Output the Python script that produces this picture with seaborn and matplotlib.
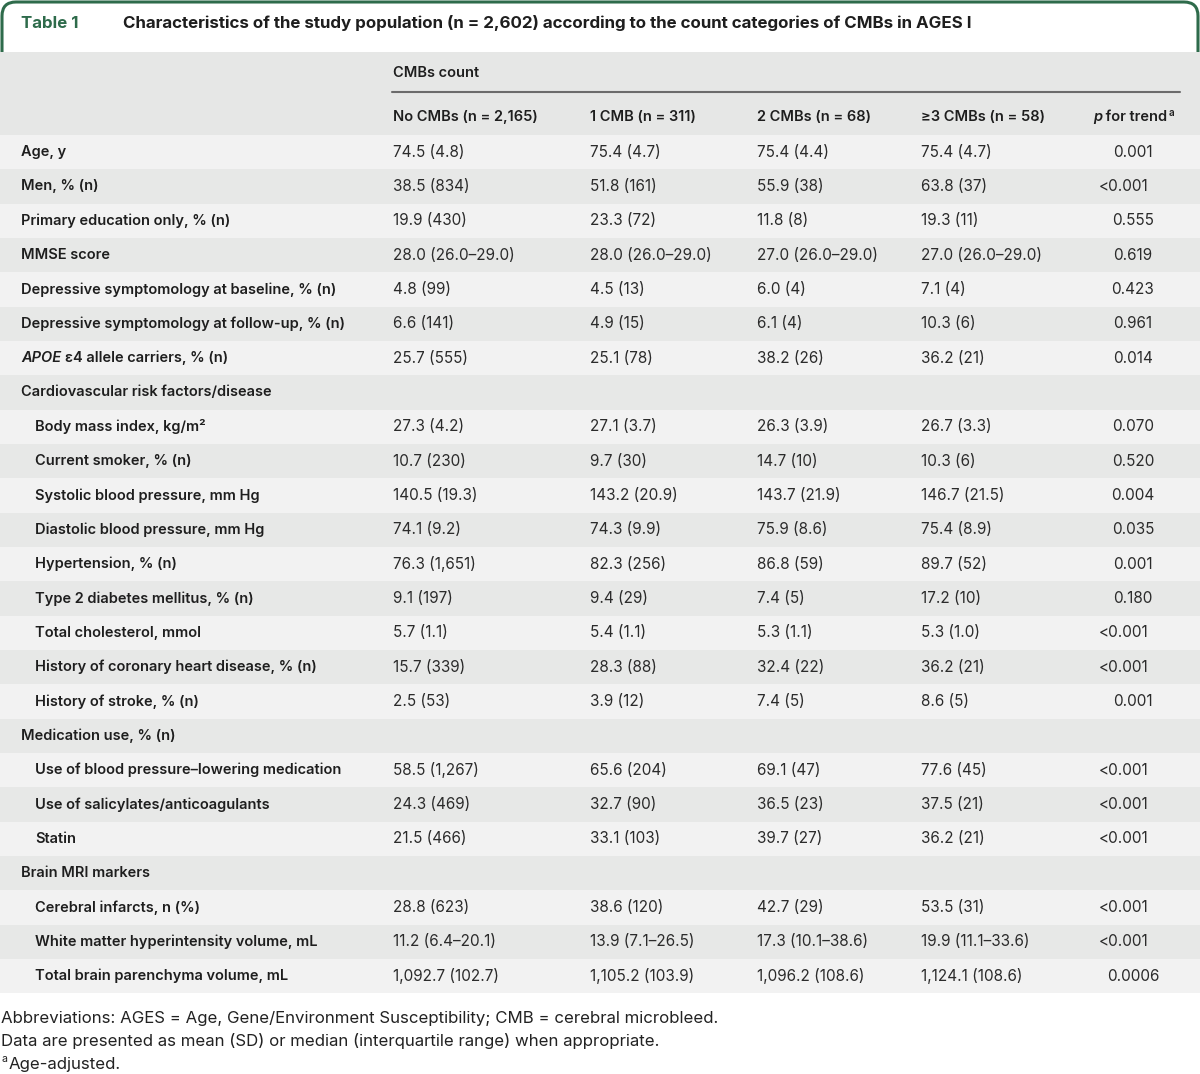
import matplotlib
matplotlib.use("Agg")
import matplotlib.pyplot as plt
import seaborn as sns
import numpy as np
from matplotlib.colors import ListedColormap
from matplotlib.patches import FancyBboxPatch, Rectangle

sns.set_theme(style="white")
plt.rcParams["font.family"] = ["Inter", "DejaVu Sans"]

# ---- data ----
title_num = "Table 1"
title_text = ("Characteristics of the study population (n = 2,602) according to the "
              "count categories of CMBs in AGES I")
group_header = "CMBs count"
col_headers = ["No CMBs (n = 2,165)", "1 CMB (n = 311)", "2 CMBs (n = 68)",
               "\u22653 CMBs (n = 58)"]

row_labels = [
    "Age, y",
    "Men, % (n)",
    "Primary education only, % (n)",
    "MMSE score",
    "Depressive symptomology at baseline, % (n)",
    "Depressive symptomology at follow-up, % (n)",
    "APOE|\u03b54 allele carriers, % (n)",
    "Cardiovascular risk factors/disease",
    "Body mass index, kg/m\u00b2",
    "Current smoker, % (n)",
    "Systolic blood pressure, mm Hg",
    "Diastolic blood pressure, mm Hg",
    "Hypertension, % (n)",
    "Type 2 diabetes mellitus, % (n)",
    "Total cholesterol, mmol",
    "History of coronary heart disease, % (n)",
    "History of stroke, % (n)",
    "Medication use, % (n)",
    "Use of blood pressure\u2013lowering medication",
    "Use of salicylates/anticoagulants",
    "Statin",
    "Brain MRI markers",
    "Cerebral infarcts, n (%)",
    "White matter hyperintensity volume, mL",
    "Total brain parenchyma volume, mL",
]
section_rows = ["Cardiovascular risk factors/disease", "Medication use, % (n)",
                "Brain MRI markers"]

no_cmbs = ["74.5 (4.8)", "38.5 (834)", "19.9 (430)", "28.0 (26.0\u201329.0)", "4.8 (99)",
           "6.6 (141)", "25.7 (555)", "", "27.3 (4.2)", "10.7 (230)", "140.5 (19.3)",
           "74.1 (9.2)", "76.3 (1,651)", "9.1 (197)", "5.7 (1.1)", "15.7 (339)",
           "2.5 (53)", "", "58.5 (1,267)", "24.3 (469)", "21.5 (466)", "",
           "28.8 (623)", "11.2 (6.4\u201320.1)", "1,092.7 (102.7)"]
one_cmb = ["75.4 (4.7)", "51.8 (161)", "23.3 (72)", "28.0 (26.0\u201329.0)", "4.5 (13)",
           "4.9 (15)", "25.1 (78)", "", "27.1 (3.7)", "9.7 (30)", "143.2 (20.9)",
           "74.3 (9.9)", "82.3 (256)", "9.4 (29)", "5.4 (1.1)", "28.3 (88)",
           "3.9 (12)", "", "65.6 (204)", "32.7 (90)", "33.1 (103)", "",
           "38.6 (120)", "13.9 (7.1\u201326.5)", "1,105.2 (103.9)"]
two_cmbs = ["75.4 (4.4)", "55.9 (38)", "11.8 (8)", "27.0 (26.0\u201329.0)", "6.0 (4)",
            "6.1 (4)", "38.2 (26)", "", "26.3 (3.9)", "14.7 (10)", "143.7 (21.9)",
            "75.9 (8.6)", "86.8 (59)", "7.4 (5)", "5.3 (1.1)", "32.4 (22)",
            "7.4 (5)", "", "69.1 (47)", "36.5 (23)", "39.7 (27)", "",
            "42.7 (29)", "17.3 (10.1\u201338.6)", "1,096.2 (108.6)"]
three_cmbs = ["75.4 (4.7)", "63.8 (37)", "19.3 (11)", "27.0 (26.0\u201329.0)", "7.1 (4)",
              "10.3 (6)", "36.2 (21)", "", "26.7 (3.3)", "10.3 (6)", "146.7 (21.5)",
              "75.4 (8.9)", "89.7 (52)", "17.2 (10)", "5.3 (1.0)", "36.2 (21)",
              "8.6 (5)", "", "77.6 (45)", "37.5 (21)", "36.2 (21)", "",
              "53.5 (31)", "19.9 (11.1\u201333.6)", "1,124.1 (108.6)"]
p_trend = ["0.001", "<0.001", "0.555", "0.619", "0.423", "0.961", "0.014", "",
           "0.070", "0.520", "0.004", "0.035", "0.001", "0.180", "<0.001", "<0.001",
           "0.001", "", "<0.001", "<0.001", "<0.001", "", "<0.001", "<0.001", "0.0006"]

footnotes = [
    "Abbreviations: AGES = Age, Gene/Environment Susceptibility; CMB = cerebral microbleed.",
    "Data are presented as mean (SD) or median (interquartile range) when appropriate.",
]
footnote_a = "Age-adjusted."

# ---- layout ----
W, H = 1200, 1074
green = "#2e6b4b"
hdr_grey = "#e6e7e6"
light_row = "#f2f2f2"
dark_row = "#e7e8e7"
body_top, row_h = 135, 34.33
n_rows = len(row_labels)
body_bot = body_top + row_h * n_rows
val_cols = [393, 590, 757, 921]

fig = plt.figure(figsize=(W / 100, H / 100), dpi=100)

# background: title tab and header band
bg = fig.add_axes([0, 0, 1, 1])
bg.set_xlim(0, W)
bg.set_ylim(H, 0)
bg.axis("off")
tab = FancyBboxPatch((2, 2), W - 4, 80, boxstyle="round,pad=0,rounding_size=14",
                     facecolor="white", edgecolor=green, linewidth=2.2, zorder=1)
bg.add_patch(tab)
bg.add_patch(Rectangle((0, 52), W, body_top - 52, facecolor=hdr_grey,
                       edgecolor="none", zorder=2))
bg.plot([392, 1180], [92, 92], color="#6b6b6b", lw=1.5, zorder=3)

# striped body rows via seaborn heatmap
stripe = np.array([[i % 2] for i in range(n_rows)])
hm = fig.add_axes([0, (H - body_bot) / H, 1, (body_bot - body_top) / H])
sns.heatmap(stripe, ax=hm, cmap=ListedColormap([light_row, dark_row]), cbar=False,
            xticklabels=False, yticklabels=False, linewidths=0)
hm.axis("off")

# text overlay
tx = fig.add_axes([0, 0, 1, 1])
tx.set_xlim(0, W)
tx.set_ylim(H, 0)
tx.axis("off")
tx.patch.set_alpha(0)
fig.canvas.draw()
rend = fig.canvas.get_renderer()


def text_width(t):
    bb = t.get_window_extent(renderer=rend)
    return bb.width


lab_kw = dict(fontsize=10.5, weight="semibold", color="#1e1e1e", va="center")
val_kw = dict(fontsize=11, color="#2b2b2b", va="center")

tx.text(21, 23, title_num, fontsize=12.2, weight="bold", color=green, va="center")
tx.text(123, 23, title_text, fontsize=12.2, weight="bold", color="#1e1e1e", va="center")
tx.text(393, 73, group_header, **lab_kw)
for x, h in zip(val_cols, col_headers):
    tx.text(x, 117, h, **lab_kw)
t = tx.text(1093, 117, "p", style="italic", **lab_kw)
t2 = tx.text(1093 + text_width(t), 117, " for trend", **lab_kw)
tx.text(1093 + text_width(t) + text_width(t2) + 1, 113, "a", fontsize=7,
        weight="semibold", color="#1e1e1e", va="center")

indent = False
for i, lab in enumerate(row_labels):
    y = body_top + row_h * (i + 0.5)
    if lab in section_rows:
        indent = True
        x0 = 21
    else:
        x0 = 35 if indent else 21
    if "|" in lab:
        it, rest = lab.split("|")
        t = tx.text(x0, y, it, style="italic", **lab_kw)
        tx.text(x0 + text_width(t) + 4, y, rest, **lab_kw)
    else:
        tx.text(x0, y, lab, **lab_kw)
    for x, col in zip(val_cols, [no_cmbs, one_cmb, two_cmbs, three_cmbs]):
        tx.text(x, y, col[i], **val_kw)
    p = p_trend[i]
    if p.startswith("<"):
        tx.text(1149, y, p, ha="right", **val_kw)
    elif p:
        tx.text(1133, y, p, ha="center", **val_kw)

foot_kw = dict(fontsize=12.1, color="#222222", va="center")
tx.text(1, 1018, footnotes[0], **foot_kw)
tx.text(1, 1041, footnotes[1], **foot_kw)
tx.text(1, 1059, "a", fontsize=7.5, color="#222222", va="center")
tx.text(9, 1064, footnote_a, **foot_kw)

fig.savefig("out.png", dpi=100)
